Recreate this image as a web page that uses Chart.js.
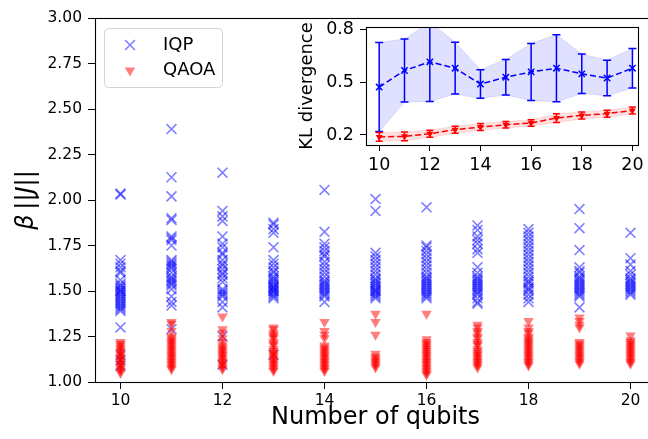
<!DOCTYPE html>
<html><head><meta charset="utf-8">
<script src="https://cdn.jsdelivr.net/npm/chart.js@4.4.1/dist/chart.umd.min.js"></script>
<style>
html,body{margin:0;padding:0;background:#fff;overflow:hidden;width:648px;height:439px;}
#wrap{position:relative;width:648px;height:439px;overflow:hidden;background:#fff;}
#main{position:absolute;left:0;top:0;}
#inset{position:absolute;left:280px;top:10px;}
</style></head><body>
<div id="wrap">
<canvas id="main" width="656" height="439"></canvas>
<canvas id="inset" width="368" height="175"></canvas>
</div>
<script>
// ---------- data ----------
const qubits = [10, 11, 12, 13, 14, 15, 16, 17, 18, 19, 20];
const iqpBeta = [
  [2.03, 2.035, 1.67, 1.65, 1.63, 1.61, 1.60, 1.56, 1.54, 1.53, 1.52, 1.51, 1.50, 1.50, 1.49, 1.48, 1.47, 1.46, 1.45, 1.44, 1.43, 1.42, 1.41, 1.40, 1.39, 1.30, 1.15, 1.12, 1.09],
  [2.39, 2.125, 2.02, 1.90, 1.89, 1.80, 1.79, 1.78, 1.75, 1.67, 1.66, 1.65, 1.64, 1.63, 1.62, 1.60, 1.58, 1.57, 1.56, 1.55, 1.54, 1.53, 1.51, 1.47, 1.44, 1.42, 1.29],
  [2.15, 1.94, 1.91, 1.885, 1.80, 1.76, 1.74, 1.71, 1.70, 1.67, 1.65, 1.64, 1.62, 1.60, 1.59, 1.57, 1.55, 1.51, 1.50, 1.49, 1.48, 1.47, 1.44, 1.41, 1.25, 1.095],
  [1.875, 1.865, 1.84, 1.82, 1.74, 1.67, 1.65, 1.63, 1.61, 1.60, 1.58, 1.57, 1.56, 1.55, 1.54, 1.53, 1.52, 1.52, 1.51, 1.50, 1.50, 1.49, 1.48, 1.47, 1.46, 1.15],
  [2.055, 1.825, 1.76, 1.74, 1.72, 1.70, 1.69, 1.66, 1.64, 1.62, 1.60, 1.58, 1.56, 1.55, 1.54, 1.53, 1.52, 1.51, 1.50, 1.49, 1.48, 1.47, 1.44],
  [2.005, 1.94, 1.71, 1.69, 1.67, 1.65, 1.63, 1.61, 1.59, 1.57, 1.56, 1.55, 1.54, 1.53, 1.52, 1.51, 1.50, 1.50, 1.49, 1.48, 1.47, 1.46],
  [1.96, 1.75, 1.74, 1.72, 1.70, 1.68, 1.66, 1.64, 1.62, 1.60, 1.58, 1.57, 1.56, 1.55, 1.54, 1.53, 1.52, 1.51, 1.50, 1.49, 1.48, 1.47, 1.46],
  [1.86, 1.835, 1.80, 1.78, 1.76, 1.73, 1.71, 1.63, 1.60, 1.58, 1.57, 1.56, 1.55, 1.54, 1.53, 1.52, 1.51, 1.50, 1.49, 1.48, 1.46, 1.44, 1.43],
  [1.84, 1.82, 1.80, 1.78, 1.76, 1.74, 1.72, 1.70, 1.68, 1.66, 1.64, 1.62, 1.60, 1.58, 1.56, 1.55, 1.54, 1.52, 1.51, 1.50, 1.48, 1.46, 1.44],
  [1.95, 1.845, 1.725, 1.63, 1.61, 1.60, 1.58, 1.57, 1.56, 1.55, 1.54, 1.53, 1.52, 1.51, 1.50, 1.49, 1.48, 1.47, 1.41],
  [1.82, 1.68, 1.645, 1.61, 1.59, 1.57, 1.56, 1.55, 1.54, 1.53, 1.52, 1.51, 1.50, 1.49, 1.48]
];
const qaoaBeta = [
  [1.22, 1.21, 1.20, 1.19, 1.18, 1.17, 1.16, 1.15, 1.14, 1.13, 1.12, 1.11, 1.10, 1.09, 1.08, 1.07, 1.06, 1.05],
  [1.33, 1.32, 1.28, 1.25, 1.24, 1.23, 1.22, 1.21, 1.20, 1.19, 1.18, 1.17, 1.16, 1.15, 1.14, 1.13, 1.12, 1.11, 1.10, 1.09, 1.08, 1.07],
  [1.36, 1.29, 1.27, 1.24, 1.22, 1.20, 1.19, 1.18, 1.17, 1.16, 1.15, 1.14, 1.13, 1.12, 1.11, 1.10, 1.09, 1.08, 1.07],
  [1.30, 1.29, 1.27, 1.26, 1.25, 1.24, 1.22, 1.21, 1.20, 1.18, 1.17, 1.16, 1.15, 1.14, 1.13, 1.12, 1.11, 1.10, 1.09, 1.08, 1.07, 1.06],
  [1.33, 1.28, 1.26, 1.24, 1.20, 1.19, 1.18, 1.17, 1.16, 1.15, 1.14, 1.13, 1.12, 1.11, 1.10, 1.09, 1.08, 1.07, 1.06],
  [1.375, 1.33, 1.26, 1.155, 1.14, 1.13, 1.12, 1.11, 1.10, 1.09, 1.08],
  [1.375, 1.235, 1.22, 1.21, 1.20, 1.19, 1.18, 1.17, 1.16, 1.15, 1.14, 1.13, 1.12, 1.11, 1.10, 1.09, 1.08, 1.07, 1.06, 1.05, 1.04],
  [1.315, 1.30, 1.28, 1.27, 1.25, 1.24, 1.22, 1.21, 1.20, 1.18, 1.17, 1.16, 1.15, 1.14, 1.13, 1.12, 1.11, 1.10, 1.09, 1.08],
  [1.335, 1.30, 1.28, 1.27, 1.25, 1.24, 1.23, 1.22, 1.21, 1.20, 1.19, 1.18, 1.17, 1.16, 1.15, 1.14, 1.13, 1.12, 1.11, 1.10, 1.09],
  [1.355, 1.335, 1.315, 1.30, 1.22, 1.21, 1.20, 1.19, 1.18, 1.17, 1.16, 1.15, 1.14, 1.13, 1.12, 1.11, 1.10],
  [1.255, 1.23, 1.22, 1.21, 1.20, 1.19, 1.18, 1.17, 1.16, 1.15, 1.14, 1.13, 1.12, 1.11, 1.10]
];
const iqpKL = [0.472, 0.566, 0.615, 0.579, 0.489, 0.528, 0.558, 0.579, 0.547, 0.523, 0.579];
const iqpKLStd = [0.253, 0.179, 0.225, 0.147, 0.081, 0.101, 0.162, 0.190, 0.112, 0.101, 0.112];
const qaoaKL = [0.189, 0.192, 0.207, 0.230, 0.245, 0.258, 0.268, 0.296, 0.311, 0.321, 0.339];
const qaoaKLStd = [0.025, 0.025, 0.020, 0.020, 0.020, 0.018, 0.018, 0.025, 0.020, 0.020, 0.020];

const mainXTicks = [10, 12, 14, 16, 18, 20];
const mainYTicks = [1.00, 1.25, 1.50, 1.75, 2.00, 2.25, 2.50, 2.75, 3.00];
const insetXTicks = [10, 12, 14, 16, 18, 20];
const insetYTicks = [0.2, 0.5, 0.8];
const seriesLabels = ['IQP', 'QAOA'];

// ---------- helpers ----------
const FONT = "'DejaVu Sans', 'Liberation Sans', sans-serif";
Chart.defaults.font.family = FONT;
Chart.defaults.color = '#000';

function toPoints(xs, ys) { return xs.flatMap((q, i) => ys[i].map(v => ({x: q, y: v}))); }
function toLine(xs, ys) { return xs.map((q, i) => ({x: q, y: ys[i]})); }

const framePlugin = {
  id: 'frame',
  beforeDraw(chart, args, opts) {
    if (!opts.fill) return;
    const a = chart.chartArea, ctx = chart.ctx;
    ctx.save(); ctx.fillStyle = opts.fill;
    ctx.fillRect(a.left, a.top, a.right - a.left, a.bottom - a.top);
    ctx.restore();
  },
  afterDraw(chart) {
    const a = chart.chartArea, ctx = chart.ctx;
    ctx.save(); ctx.strokeStyle = '#000'; ctx.lineWidth = 1.1;
    ctx.strokeRect(Math.round(a.left) + 0.5, Math.round(a.top) + 0.5,
      Math.round(a.right - a.left), Math.round(a.bottom - a.top));
    ctx.restore();
  }
};

const legendBoxPlugin = {
  id: 'legendBox',
  afterDraw(chart) {
    const ctx = chart.ctx;
    const x = 104.5, y = 28.5, w = 118, h = 59;
    ctx.save();
    ctx.beginPath();
    ctx.roundRect(x, y, w, h, 4);
    ctx.fillStyle = 'rgba(255,255,255,0.8)'; ctx.fill();
    ctx.strokeStyle = '#d3d3d3'; ctx.lineWidth = 1; ctx.stroke();
    chart.data.datasets.forEach((ds, i) => {
      const cy = y + 16.5 + i * 25.5;
      ctx.fillStyle = ds.pointBackgroundColor;
      ctx.strokeStyle = ds.pointBorderColor;
      ctx.lineWidth = ds.pointBorderWidth;
      Chart.helpers.drawPoint(ctx, {
        pointStyle: ds.pointStyle, radius: ds.pointRadius,
        rotation: ds.pointRotation || 0, borderWidth: ds.pointBorderWidth
      }, 130, cy);
      ctx.fillStyle = '#000';
      ctx.font = '18px ' + FONT;
      ctx.textBaseline = 'middle'; ctx.textAlign = 'left';
      ctx.fillText(ds.label, 163, cy);
    });
    ctx.restore();
  }
};

const yTitlePlugin = {
  id: 'yTitle',
  afterDraw(chart) {
    const ctx = chart.ctx;
    const a = chart.chartArea;
    const parts = [['β', 'italic'], ['\u2009||', 'normal'], ['J', 'italic'], ['||', 'normal']];
    ctx.save();
    ctx.translate(27, (a.top + a.bottom) / 2);
    ctx.rotate(-Math.PI / 2);
    ctx.fillStyle = '#000'; ctx.textBaseline = 'middle'; ctx.textAlign = 'left';
    let total = 0;
    const widths = parts.map(([t, s]) => { ctx.font = s + ' 24px ' + FONT; const w = ctx.measureText(t).width; total += w; return w; });
    let cx = -total / 2;
    parts.forEach(([t, s], i) => { ctx.font = s + ' 24px ' + FONT; ctx.fillText(t, cx, 0); cx += widths[i]; });
    ctx.restore();
  }
};

const errorBarPlugin = {
  id: 'errorBars',
  afterDatasetsDraw(chart) {
    const {ctx, chartArea: a, scales: {x, y}} = chart;
    ctx.save();
    ctx.beginPath(); ctx.rect(a.left, a.top, a.right - a.left, a.bottom - a.top); ctx.clip();
    chart.data.datasets.forEach(ds => {
      if (!ds.errorBars) return;
      ctx.strokeStyle = ds.borderColor; ctx.lineWidth = 1.5; ctx.setLineDash([]);
      ds.data.forEach((p, i) => {
        const px = x.getPixelForValue(p.x);
        const t = y.getPixelForValue(p.y + ds.errorBars[i]);
        const b = y.getPixelForValue(p.y - ds.errorBars[i]);
        const c = ds.capHalf;
        ctx.beginPath();
        ctx.moveTo(px, t); ctx.lineTo(px, b);
        ctx.moveTo(px - c, t); ctx.lineTo(px + c, t);
        ctx.moveTo(px - c, b); ctx.lineTo(px + c, b);
        ctx.stroke();
      });
    });
    ctx.restore();
  }
};

function fixedTicks(list) { return s => { s.ticks = list.map(v => ({value: v})); }; }

// ---------- main chart ----------
new Chart(document.getElementById('main'), {
  type: 'scatter',
  data: {
    datasets: [
      {
        label: seriesLabels[0], data: toPoints(qubits, iqpBeta), order: 1,
        pointStyle: 'crossRot', pointRadius: 7, pointBorderWidth: 1.6,
        pointBorderColor: 'rgba(0,0,255,0.5)', pointBackgroundColor: 'rgba(0,0,255,0.5)',
        borderColor: 'rgba(0,0,255,0.5)', backgroundColor: 'rgba(0,0,255,0.5)'
      },
      {
        label: seriesLabels[1], data: toPoints(qubits, qaoaBeta), order: 0,
        pointStyle: 'triangle', pointRotation: 180, pointRadius: 6, pointBorderWidth: 0,
        pointBorderColor: 'rgba(255,0,0,0.5)', pointBackgroundColor: 'rgba(255,0,0,0.5)',
        borderColor: 'rgba(255,0,0,0.5)', backgroundColor: 'rgba(255,0,0,0.5)'
      }
    ]
  },
  options: {
    responsive: false, animation: false, events: [],
    layout: {padding: {left: 0, top: 18, right: 0, bottom: 0}, autoPadding: false},
    plugins: {legend: {display: false}, tooltip: {enabled: false}, frame: {fill: null}},
    scales: {
      x: {
        type: 'linear', min: 9.5, max: 20.5,
        afterBuildTicks: fixedTicks(mainXTicks),
        afterFit: s => { s.height = 57; },
        border: {display: false},
        grid: {drawOnChartArea: false, drawTicks: true, tickLength: 7, color: '#000', tickColor: '#000', lineWidth: 1},
        ticks: {font: {size: 15.5}, color: '#000', padding: 3, maxRotation: 0, autoSkip: false, callback: v => String(v)},
        title: {display: true, text: 'Number of qubits', font: {size: 24}, color: '#000', padding: {top: 0, bottom: 7}}
      },
      y: {
        type: 'linear', min: 1.0, max: 3.0,
        afterBuildTicks: fixedTicks(mainYTicks),
        afterFit: s => { s.width = 95; },
        border: {display: false},
        grid: {drawOnChartArea: false, drawTicks: true, tickLength: 7, color: '#000', tickColor: '#000', lineWidth: 1},
        ticks: {font: {size: 15.5}, color: '#000', padding: 6, autoSkip: false, callback: v => Number(v).toFixed(2)}
      }
    }
  },
  plugins: [framePlugin, legendBoxPlugin, yTitlePlugin]
});

// ---------- inset chart ----------
const iqpUpper = iqpKL.map((m, i) => m + iqpKLStd[i]);
const iqpLower = iqpKL.map((m, i) => m - iqpKLStd[i]);
const qaoaUpper = qaoaKL.map((m, i) => m + qaoaKLStd[i]);
const qaoaLower = qaoaKL.map((m, i) => m - qaoaKLStd[i]);

new Chart(document.getElementById('inset'), {
  type: 'line',
  data: {
    datasets: [
      {label: 'iqp-up', data: toLine(qubits, iqpUpper), order: 2, fill: '+1',
       backgroundColor: 'rgba(0,0,255,0.12)', borderColor: 'rgba(0,0,255,0.1)', borderWidth: 1, pointRadius: 0},
      {label: 'iqp-low', data: toLine(qubits, iqpLower), order: 2, fill: false,
       borderColor: 'rgba(0,0,255,0.1)', borderWidth: 1, pointRadius: 0},
      {label: seriesLabels[0], data: toLine(qubits, iqpKL), order: 0, fill: false,
       borderColor: '#0000ff', borderWidth: 1.5, borderDash: [6, 3],
       pointStyle: 'crossRot', pointRadius: 4.5, pointBorderWidth: 1.5, pointBorderColor: '#0000ff', pointBackgroundColor: '#0000ff',
       errorBars: iqpKLStd, capHalf: 4},
      {label: 'qaoa-up', data: toLine(qubits, qaoaUpper), order: 2, fill: '+1',
       backgroundColor: 'rgba(255,0,0,0.12)', borderColor: 'rgba(255,0,0,0.1)', borderWidth: 1, pointRadius: 0},
      {label: 'qaoa-low', data: toLine(qubits, qaoaLower), order: 2, fill: false,
       borderColor: 'rgba(255,0,0,0.1)', borderWidth: 1, pointRadius: 0},
      {label: seriesLabels[1], data: toLine(qubits, qaoaKL), order: 0, fill: false,
       borderColor: '#ff0000', borderWidth: 1.5, borderDash: [6, 3],
       pointStyle: 'triangle', pointRotation: 180, pointRadius: 4, pointBorderWidth: 0, pointBorderColor: '#ff0000', pointBackgroundColor: '#ff0000',
       errorBars: qaoaKLStd, capHalf: 3.5}
    ]
  },
  options: {
    responsive: false, animation: false, events: [],
    layout: {padding: {left: 0, top: 17, right: 10, bottom: 0}, autoPadding: false},
    plugins: {legend: {display: false}, tooltip: {enabled: false}, frame: {fill: '#ffffff'}},
    scales: {
      x: {
        type: 'linear', min: 9.48, max: 20.22,
        afterBuildTicks: fixedTicks(insetXTicks),
        afterFit: s => { s.height = 40; },
        border: {display: false},
        grid: {drawOnChartArea: false, drawTicks: true, tickLength: 6, color: '#000', tickColor: '#000', lineWidth: 1},
        ticks: {font: {size: 17.5}, color: '#000', padding: 4, maxRotation: 0, autoSkip: false, callback: v => String(v)}
      },
      y: {
        type: 'linear', min: 0.143, max: 0.813,
        afterBuildTicks: fixedTicks(insetYTicks),
        afterFit: s => { s.width = 86; },
        border: {display: false},
        grid: {drawOnChartArea: false, drawTicks: true, tickLength: 6, color: '#000', tickColor: '#000', lineWidth: 1},
        ticks: {font: {size: 17.5}, color: '#000', padding: 6, autoSkip: false, callback: v => Number(v).toFixed(1)},
        title: {display: true, text: 'KL divergence', font: {size: 18}, color: '#000', padding: {top: 17, bottom: 0}}
      }
    }
  },
  plugins: [framePlugin, errorBarPlugin]
});
</script>
</body></html>
